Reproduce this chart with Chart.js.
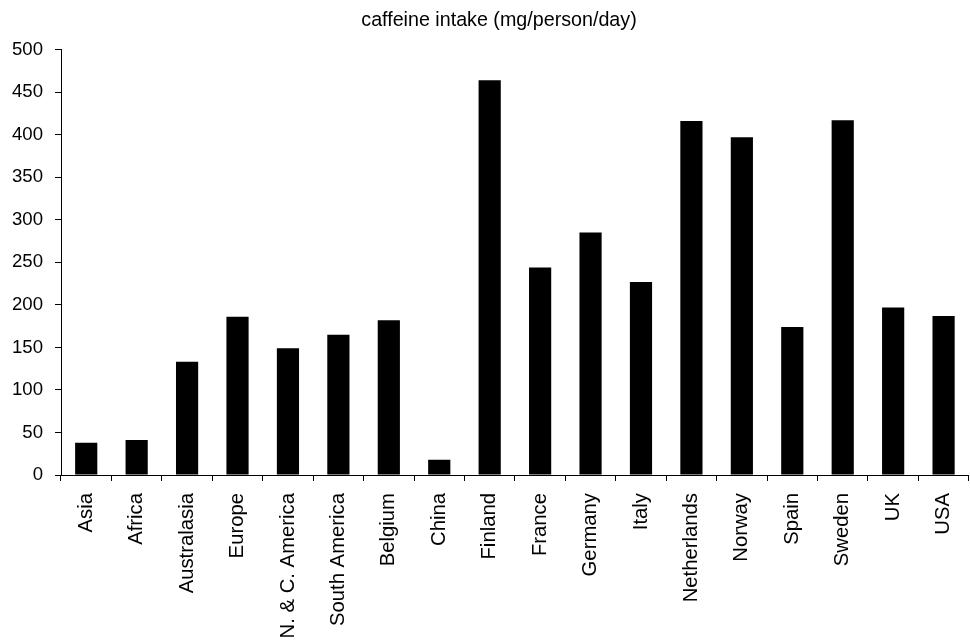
<!DOCTYPE html>
<html>
<head>
<meta charset="utf-8">
<script src="https://cdn.jsdelivr.net/npm/chart.js@4"></script>
<style>
html,body{margin:0;padding:0;background:#fff;overflow:hidden;width:970px;height:641px;}
canvas{display:block;}
</style>
</head>
<body>
<canvas id="c" width="980" height="641"></canvas>
<script>
const categories = ["Asia","Africa","Australasia","Europe","N. & C. America","South America","Belgium","China","Finland","France","Germany","Italy","Netherlands","Norway","Spain","Sweden","UK","USA"];
const caffeineIntake = [38,41,133,186,149,165,182,18,464,244,285,227,416,397,174,417,197,187];
const yTicks = [0,50,100,150,200,250,300,350,400,450,500];
const titleText = "caffeine intake (mg/person/day)";

const FONT = "'Liberation Sans', Arial, sans-serif";

const shiftTitle = {
  id: 'shiftTitle',
  afterLayout(chart) {
    if (chart.titleBlock) { chart.titleBlock.left = 20; }
  }
};

new Chart(document.getElementById('c'), {
  type: 'bar',
  data: {
    labels: categories,
    datasets: [{
      data: caffeineIntake,
      backgroundColor: '#000',
      borderWidth: 0,
      barPercentage: 0.44,
      categoryPercentage: 1.0
    }]
  },
  plugins: [shiftTitle],
  options: {
    responsive: false,
    animation: false,
    devicePixelRatio: 1,
    layout: { padding: { left: 0, right: 2, top: 0, bottom: 0 } },
    plugins: {
      legend: { display: false },
      tooltip: { enabled: false },
      title: {
        display: true,
        text: titleText,
        color: '#000',
        font: { family: FONT, size: 19.7, weight: 'normal' },
        padding: { top: 9, bottom: 17 }
      }
    },
    scales: {
      x: {
        offset: true,
        grid: { display: true, drawOnChartArea: false, drawTicks: true, tickLength: 6, color: '#000', offset: true },
        border: { display: true, color: '#000', width: 1 },
        ticks: {
          color: '#000',
          font: { family: FONT, size: 20.3 },
          maxRotation: 90, minRotation: 90,
          autoSkip: false,
          padding: 12
        },
        afterFit: (s) => { s.height = 166; }
      },
      y: {
        min: 0, max: 500,
        afterBuildTicks: (s) => { s.ticks = yTicks.map(v => ({ value: v })); },
        grid: { display: true, drawOnChartArea: false, drawTicks: true, tickLength: 6, color: '#000' },
        border: { display: true, color: '#000', width: 1 },
        ticks: {
          color: '#000',
          font: { family: FONT, size: 18.6 },
          padding: 12
        },
        afterFit: (s) => { s.width = 61; }
      }
    }
  }
});
</script>
</body>
</html>
